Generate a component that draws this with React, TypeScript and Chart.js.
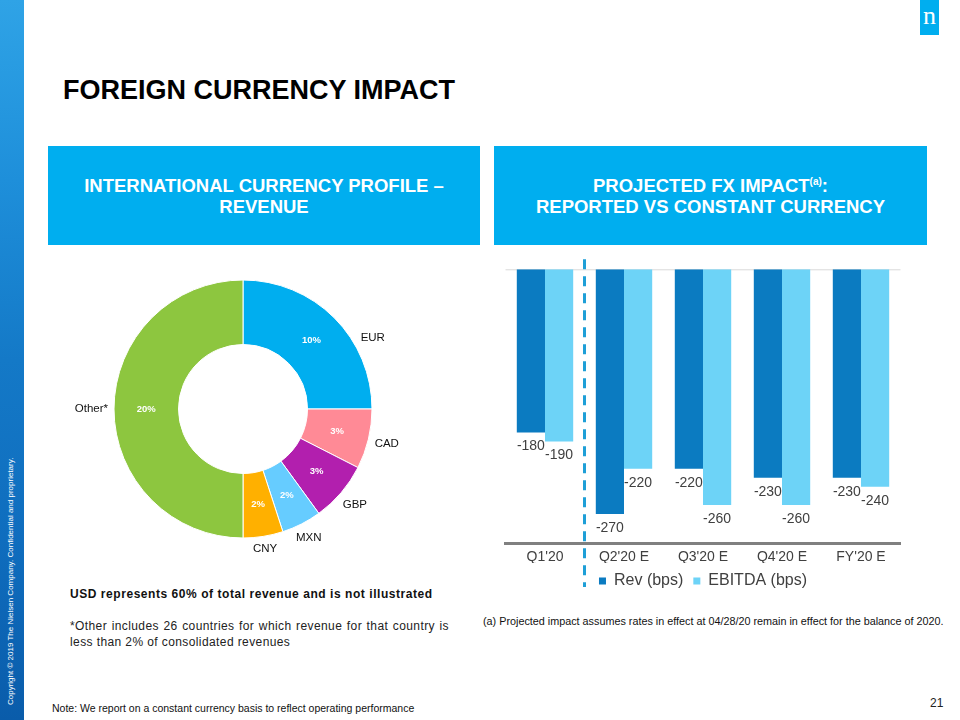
import React, { useEffect, useRef } from 'react';
import { Chart, registerables } from 'chart.js';

Chart.register(...registerables);

// ---------- data ----------
const currencyLabels = ['EUR', 'CAD', 'GBP', 'MXN', 'CNY', 'Other*'];
const currencyShares = [10, 3, 3, 2, 2, 20];
const currencyColors = ['#00AEEF', '#FF8A96', '#B21FAE', '#66CCFF', '#FFB000', '#8DC63F'];
const outerLabelShiftDeg = [16.4, 0, 0, 0, 0, 0];

const periods = ["Q1'20", "Q2'20 E", "Q3'20 E", "Q4'20 E", "FY'20 E"];
const revBps = [-180, -270, -220, -230, -230];
const ebitdaBps = [-190, -220, -260, -260, -240];
const seriesNames = ['Rev (bps)', 'EBITDA (bps)'];
const seriesColors = ['#0B7BC1', '#6DD3F7'];

const FONT = '"Liberation Sans", Arial, Helvetica, sans-serif';

const doughnutLabels = {
  id: 'doughnutLabels',
  afterDatasetsDraw(chart: any) {
    const ctx = chart.ctx;
    const meta = chart.getDatasetMeta(0);
    meta.data.forEach((arc: any, i: number) => {
      const p = arc.getProps(['x', 'y', 'startAngle', 'endAngle', 'innerRadius', 'outerRadius'], true);
      const mid = (p.startAngle + p.endAngle) / 2;
      const rm = (p.innerRadius + p.outerRadius) / 2;
      ctx.save();
      ctx.textAlign = 'center';
      ctx.textBaseline = 'middle';
      ctx.font = `bold 9.5px ${FONT}`;
      ctx.fillStyle = '#FFFFFF';
      ctx.fillText(currencyShares[i] + '%', p.x + Math.cos(mid) * rm, p.y + Math.sin(mid) * rm);
      const a = mid + (outerLabelShiftDeg[i] * Math.PI) / 180;
      ctx.font = `11.5px ${FONT}`;
      ctx.fillStyle = '#111111';
      const label = currencyLabels[i];
      const w = ctx.measureText(label).width;
      const h = 9;
      const r = p.outerRadius + 6 + Math.abs(Math.cos(a)) * w / 2 + Math.abs(Math.sin(a)) * h / 2;
      ctx.fillText(label, p.x + Math.cos(a) * r, p.y + Math.sin(a) * r);
      ctx.restore();
    });
  },
};

const barExtras = {
  id: 'barExtras',
  beforeDatasetsDraw(chart: any) {
    const { ctx, chartArea, scales } = chart;
    const y0 = scales.y.getPixelForValue(0);
    ctx.save();
    ctx.strokeStyle = '#D9D9D9';
    ctx.lineWidth = 1;
    ctx.beginPath();
    ctx.moveTo(chartArea.left, y0 + 0.5);
    ctx.lineTo(chartArea.right, y0 + 0.5);
    ctx.stroke();
    ctx.restore();
  },
  afterDatasetsDraw(chart: any) {
    const { ctx } = chart;
    ctx.save();
    ctx.font = `14px ${FONT}`;
    ctx.fillStyle = '#404040';
    ctx.textAlign = 'center';
    ctx.textBaseline = 'middle';
    chart.data.datasets.forEach((ds: any, di: number) => {
      const meta = chart.getDatasetMeta(di);
      meta.data.forEach((bar: any, i: number) => {
        const p = bar.getProps(['x', 'y'], true);
        ctx.fillText(String(ds.data[i]), p.x, p.y + 14);
      });
    });
    ctx.restore();
  },
  afterDraw(chart: any) {
    const { ctx, chartArea, scales } = chart;
    const x = (scales.x.getPixelForValue(0) + scales.x.getPixelForValue(1)) / 2;
    ctx.save();
    ctx.strokeStyle = '#1E9FD7';
    ctx.lineWidth = 3;
    ctx.setLineDash([10, 7]);
    ctx.beginPath();
    ctx.moveTo(x, chartArea.top - 10);
    ctx.lineTo(x, chartArea.bottom + 44);
    ctx.stroke();
    ctx.restore();
  },
};

function DoughnutChart() {
  const ref = useRef<HTMLCanvasElement>(null);
  useEffect(() => {
    const chart = new Chart(ref.current as HTMLCanvasElement, {
      type: 'doughnut',
      data: {
        labels: currencyLabels,
        datasets: [
          {
            data: currencyShares,
            backgroundColor: currencyColors,
            borderColor: '#FFFFFF',
            borderWidth: 1,
          },
        ],
      },
      options: {
        responsive: false,
        animation: false,
        devicePixelRatio: 1,
        cutout: '50%',
        layout: { padding: { left: 70.5, right: 70.5, top: 30.5, bottom: 30.5 } },
        plugins: { legend: { display: false }, tooltip: { enabled: false } },
      },
      plugins: [doughnutLabels],
    } as any);
    return () => chart.destroy();
  }, []);
  return <canvas ref={ref} width={400} height={320} style={{ width: 400, height: 320 }} />;
}

function BarChart() {
  const ref = useRef<HTMLCanvasElement>(null);
  useEffect(() => {
    const chart = new Chart(ref.current as HTMLCanvasElement, {
      type: 'bar',
      data: {
        labels: periods,
        datasets: [
          { label: seriesNames[0], data: revBps, backgroundColor: seriesColors[0], categoryPercentage: 0.714, barPercentage: 1 },
          { label: seriesNames[1], data: ebitdaBps, backgroundColor: seriesColors[1], categoryPercentage: 0.714, barPercentage: 1 },
        ],
      },
      options: {
        responsive: false,
        animation: false,
        devicePixelRatio: 1,
        layout: { padding: { left: 11.5, right: 26.5, top: 19.3, bottom: 0 } },
        scales: {
          x: {
            grid: { display: false, drawTicks: false },
            border: { display: true, color: '#808080', width: 3 },
            ticks: { color: '#404040', font: { family: FONT, size: 14 }, padding: 6 },
            afterFit: (scale: any) => {
              scale.height = 20;
            },
          },
          y: { display: false, min: -302, max: 0 },
        },
        plugins: {
          legend: {
            position: 'bottom',
            maxHeight: 26,
            labels: {
              boxWidth: 7,
              boxHeight: 7,
              color: '#404040',
              font: { family: FONT, size: 16 },
              padding: 10,
            },
          },
          tooltip: { enabled: false },
        },
      },
      plugins: [barExtras],
    } as any);
    return () => chart.destroy();
  }, []);
  return <canvas ref={ref} width={433} height={339} style={{ width: 433, height: 339 }} />;
}

const abs = (l: number, t: number, extra: React.CSSProperties = {}): React.CSSProperties => ({
  position: 'absolute',
  left: l,
  top: t,
  ...extra,
});

const headerBox: React.CSSProperties = {
  height: 99,
  background: '#00AEEF',
  color: '#FFFFFF',
  fontWeight: 'bold',
  fontSize: 18.5,
  lineHeight: '21px',
  display: 'flex',
  alignItems: 'center',
  justifyContent: 'center',
  textAlign: 'center',
};

export default function App() {
  return (
    <div
      style={{
        position: 'absolute',
        left: 0,
        top: 0,
        width: 960,
        height: 720,
        background: '#FFFFFF',
        overflow: 'hidden',
        fontFamily: FONT,
        color: '#000',
      }}
    >
      {/* left stripe */}
      <div
        style={abs(0, 0, {
          width: 24,
          height: 720,
          background: 'linear-gradient(180deg, #2FA3E6 0%, #1E8FDA 25%, #1479C7 50%, #0F6DBE 75%, #0A5CAA 100%)',
        })}
      />
      <div
        style={abs(0, 705, {
          width: 260,
          height: 22,
          lineHeight: '22px',
          transform: 'rotate(-90deg)',
          transformOrigin: 'left top',
          color: '#FFFFFF',
          fontSize: 8,
          whiteSpace: 'nowrap',
        })}
      >
        Copyright © 2019 The Nielsen Company. Confidential and proprietary.
      </div>

      {/* logo */}
      <div
        style={abs(920, 0, {
          width: 19,
          height: 35,
          background: '#00AEEF',
          color: '#FFFFFF',
          fontFamily: '"Liberation Serif", "DejaVu Serif", serif',
          fontSize: 26,
          lineHeight: '32px',
          textAlign: 'center',
        })}
      >
        n
      </div>

      {/* title */}
      <div style={abs(63, 77, { fontSize: 27, lineHeight: '26px', fontWeight: 'bold', whiteSpace: 'nowrap' })}>
        FOREIGN CURRENCY IMPACT
      </div>

      {/* header boxes */}
      <div style={abs(48, 146, { ...headerBox, width: 432 })}>
        <div>
          INTERNATIONAL CURRENCY PROFILE –<br />
          REVENUE
        </div>
      </div>
      <div style={abs(494, 146, { ...headerBox, width: 433 })}>
        <div>
          PROJECTED FX IMPACT<sup style={{ fontSize: 10, verticalAlign: 'top', lineHeight: '14px' }}>(a)</sup>:<br />
          REPORTED VS CONSTANT CURRENCY
        </div>
      </div>

      {/* doughnut */}
      <div style={abs(43, 249, { width: 400, height: 320 })}>
        <DoughnutChart />
      </div>

      {/* bar chart */}
      <div style={abs(494, 250, { width: 433, height: 339 })}>
        <BarChart />
      </div>

      {/* left notes */}
      <div
        style={abs(70, 587, {
          fontSize: 12,
          lineHeight: '14px',
          fontWeight: 'bold',
          letterSpacing: 0.55,
          color: '#111',
          whiteSpace: 'nowrap',
        })}
      >
        USD represents 60% of total revenue and is not illustrated
      </div>
      <div
        style={abs(70, 618, {
          width: 379,
          fontSize: 12,
          lineHeight: '16px',
          letterSpacing: 0.4,
          color: '#222',
          textAlign: 'justify',
        })}
      >
        *Other includes 26 countries for which revenue for that country is less than 2% of consolidated revenues
      </div>

      {/* right footnote */}
      <div style={abs(483, 615, { fontSize: 10.8, lineHeight: '12px', color: '#111', whiteSpace: 'nowrap' })}>
        (a) Projected impact assumes rates in effect at 04/28/20 remain in effect for the balance of 2020.
      </div>

      {/* bottom note */}
      <div style={abs(52, 702, { fontSize: 10.5, lineHeight: '12px', color: '#111', whiteSpace: 'nowrap' })}>
        Note: We report on a constant currency basis to reflect operating performance
      </div>

      {/* page number */}
      <div style={abs(930, 696, { fontSize: 12, lineHeight: '14px', color: '#222' })}>21</div>
    </div>
  );
}
